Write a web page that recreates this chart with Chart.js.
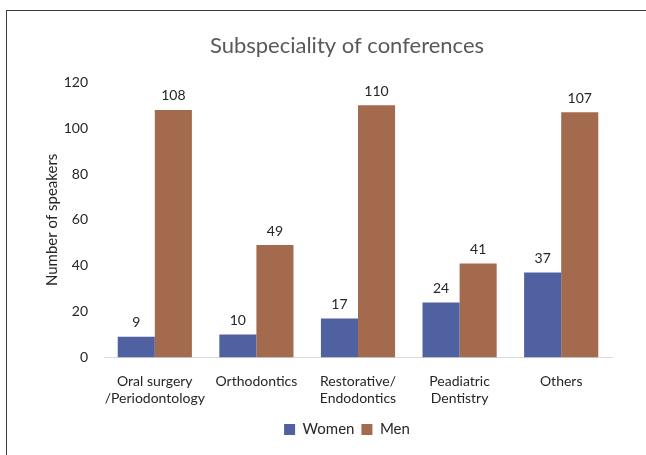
<!DOCTYPE html>
<html>
<head>
<meta charset="utf-8">
<script src="https://cdn.jsdelivr.net/npm/chart.js@4.4.1/dist/chart.umd.min.js"></script>
<style>
  html, body { margin: 0; padding: 0; background: #fff; overflow: hidden; }
  body { width: 646px; height: 455px; position: relative; }
  .frame {
    position: absolute; left: 6px; top: 10px; width: 700px; height: 500px;
    border: 1px solid #3a3a3a; box-sizing: border-box;
  }
  .wrap { position: absolute; left: 6px; top: 10px; width: 645px; height: 445px; }
</style>
</head>
<body>
<div class="frame"></div>
<div class="wrap"><canvas id="chart"></canvas></div>
<script>
// Subspeciality of conferences - speakers by gender
const categories = [
  ['Oral surgery', '/Periodontology'],
  'Orthodontics',
  ['Restorative/', 'Endodontics'],
  ['Peadiatric', 'Dentistry'],
  'Others'
];
const women = [9, 10, 17, 24, 37];
const men = [108, 49, 110, 41, 107];
const yTicks = [0, 20, 40, 60, 80, 100, 120];

const FONT = 'Lato, "Open Sans", sans-serif';

// value labels above each bar
const barLabels = {
  id: 'barLabels',
  afterDatasetsDraw(chart) {
    const { ctx } = chart;
    ctx.save();
    ctx.font = '14px ' + FONT;
    ctx.fillStyle = '#262626';
    ctx.textAlign = 'center';
    ctx.textBaseline = 'bottom';
    chart.data.datasets.forEach((ds, i) => {
      chart.getDatasetMeta(i).data.forEach((bar, j) => {
        ctx.fillText(ds.data[j], bar.x, bar.y - 7);
      });
    });
    ctx.restore();
  }
};

new Chart(document.getElementById('chart'), {
  type: 'bar',
  data: {
    labels: categories,
    datasets: [
      {
        label: 'Women',
        data: women,
        backgroundColor: '#4f61a0',
        categoryPercentage: 0.73,
        barPercentage: 1
      },
      {
        label: 'Men',
        data: men,
        backgroundColor: '#a46a4d',
        categoryPercentage: 0.73,
        barPercentage: 1
      }
    ]
  },
  options: {
    responsive: true,
    maintainAspectRatio: false,
    animation: false,
    layout: { autoPadding: false, padding: { left: 37, right: 0, top: 0, bottom: 8 } },
    plugins: {
      title: {
        display: true,
        text: 'Subspeciality of conferences',
        color: '#595959',
        font: { family: FONT, size: 22, weight: 'normal' },
        padding: { top: 23, bottom: 23 }
      },
      legend: {
        position: 'bottom',
        labels: {
          color: '#262626',
          font: { family: FONT, size: 15 },
          boxWidth: 11,
          boxHeight: 11,
          padding: 7
        }
      },
      tooltip: { enabled: false }
    },
    scales: {
      x: {
        grid: { display: false },
        border: { color: '#d9d9d9', width: 1 },
        ticks: {
          color: '#262626',
          font: { family: FONT, size: 14 },
          padding: 8,
          maxRotation: 0,
          autoSkip: false
        },
        // long first label should not push the plot right
        afterFit: (s) => { s.paddingLeft = 0; s.paddingRight = 0; }
      },
      y: {
        min: 0,
        max: 120,
        afterBuildTicks: (axis) => { axis.ticks = yTicks.map((v) => ({ value: v })); },
        grid: { display: false, drawTicks: false },
        border: { display: false },
        ticks: { color: '#262626', font: { family: FONT, size: 14 }, padding: 16 },
        title: {
          display: true,
          text: 'Number of speakers',
          color: '#262626',
          font: { family: FONT, size: 15 },
          padding: { top: 0, bottom: 4 }
        },
        afterFit: (s) => { s.width = 61; }
      },
      // empty right-hand gutter
      y2: {
        position: 'right',
        grid: { display: false },
        border: { display: false },
        ticks: { display: false },
        afterFit: (s) => { s.width = 39; }
      }
    }
  },
  plugins: [barLabels]
});
</script>
</body>
</html>
